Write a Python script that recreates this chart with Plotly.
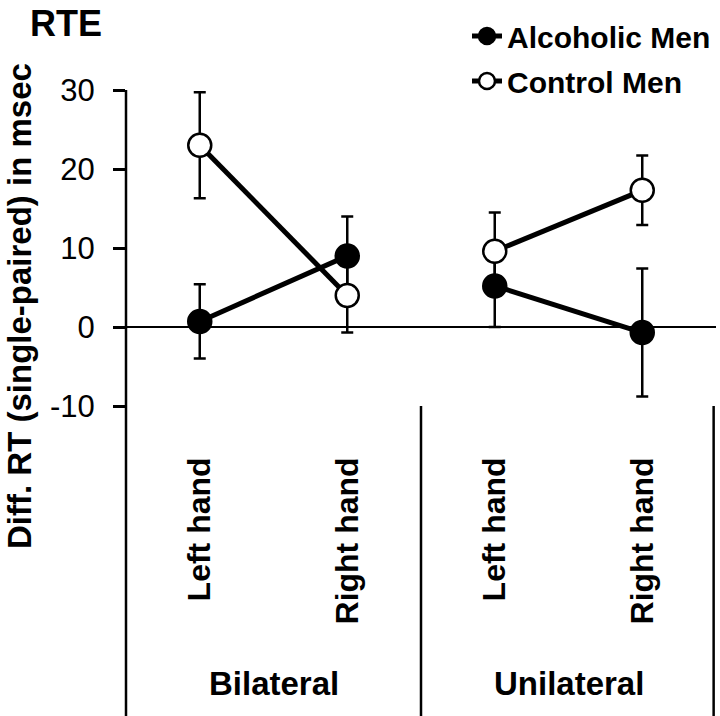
import plotly.graph_objects as go

# ---- data ----
groups = ["Bilateral", "Unilateral"]
hands = ["Left hand", "Right hand"]
tick_labels = ["Left hand", "Right hand", "Left hand", "Right hand"]
series_names = ["Alcoholic Men", "Control Men"]
alcoholic_mean = [0.7, 9.0, 5.2, -0.7]
alcoholic_err = [4.7, 5.0, 5.2, 8.1]
control_mean = [23.0, 4.0, 9.6, 17.3]
control_err = [6.7, 4.7, 4.9, 4.4]
y_ticks = [-10, 0, 10, 20, 30]
y_tick_text = ["-10", "0", "10", "20", "30"]

FONT = "Liberation Sans, Arial, sans-serif"
W, H = 720, 716
L, R, T, B = 126, 4, 90, 310
plot_h = H - T - B
plot_w = W - L - R

fig = go.Figure()

series = [
    (series_names[0], alcoholic_mean, alcoholic_err, "black"),
    (series_names[1], control_mean, control_err, "white"),
]
for name, means, errs, fill in series:
    for gi, g in enumerate(groups):
        xs = [gi * len(hands) + hi for hi in range(len(hands))]
        ys = [means[x] for x in xs]
        es = [errs[x] for x in xs]
        fig.add_trace(go.Scatter(
            x=xs, y=ys, mode="lines+markers", name=name,
            legendgroup=name, showlegend=(gi == 0),
            line=dict(color="black", width=5),
            marker=dict(size=23, color=fill, line=dict(color="black", width=2.5)),
            error_y=dict(type="data", array=es, symmetric=True,
                         color="black", thickness=2.5, width=6),
            cliponaxis=False,
        ))

# y axis line extended down through label area, plus group separators
bottom = -(B) / plot_h
for xp, y1 in [(0, 1), (0.5, 0), (0.996, 0)]:
    fig.add_shape(type="line", xref="paper", yref="paper",
                  x0=xp, x1=xp, y0=bottom, y1=y1,
                  line=dict(color="black", width=2.5))

for gi, g in enumerate(groups):
    fig.add_annotation(x=gi * len(hands) + 0.5, y=-(683 - (T + plot_h)) / plot_h,
                       xref="x", yref="paper", text=g, showarrow=False,
                       xanchor="center", yanchor="middle",
                       font=dict(family=FONT, size=33, color="black", weight="bold"))

fig.add_annotation(x=(19 - L) / plot_w, y=(T + plot_h - 306) / plot_h,
                   xref="paper", yref="paper", text="Diff. RT (single-paired) in msec",
                   textangle=-90, showarrow=False, xanchor="center", yanchor="middle",
                   font=dict(family=FONT, size=33, color="black", weight="bold"))

# chart title "RTE" in the top-left corner
fig.add_annotation(x=(28 - L) / plot_w, y=(T + plot_h - 1) / plot_h,
                   xref="paper", yref="paper", text="RTE", showarrow=False,
                   xanchor="left", yanchor="top",
                   font=dict(family=FONT, size=36, color="black", weight="bold"))

fig.update_layout(
    template="none",
    width=W, height=H,
    margin=dict(l=L, r=R, t=T, b=B, autoexpand=False),
    paper_bgcolor="white", plot_bgcolor="white",
    legend=dict(x=1.0, xanchor="right", y=1 - 10 / H, yref="container", yanchor="top",
                font=dict(family=FONT, size=30, color="black", weight="bold"),
                bgcolor="rgba(0,0,0,0)", traceorder="grouped", tracegroupgap=3),
    showlegend=True,
)
fig.update_xaxes(range=[-0.5, 3.5], tickvals=[0, 1, 2, 3], ticktext=tick_labels,
                 tickangle=-90, showgrid=False, zeroline=False, showline=False,
                 ticks="", ticklabelstandoff=44, automargin=False,
                 tickfont=dict(family=FONT, size=32, color="black", weight="bold"))
fig.update_yaxes(range=[-10, 30], tickvals=y_ticks, ticktext=y_tick_text,
                 showgrid=False,
                 zeroline=True, zerolinecolor="black", zerolinewidth=2,
                 showline=False, ticks="outside", ticklen=12, tickwidth=2.5,
                 tickcolor="black", automargin=False, ticklabelstandoff=12,
                 tickfont=dict(family=FONT, size=31, color="black"))

fig.write_html("out.html", config={"displayModeBar": False},
               post_script="document.body.style.margin='0';document.body.style.overflow='hidden';")
